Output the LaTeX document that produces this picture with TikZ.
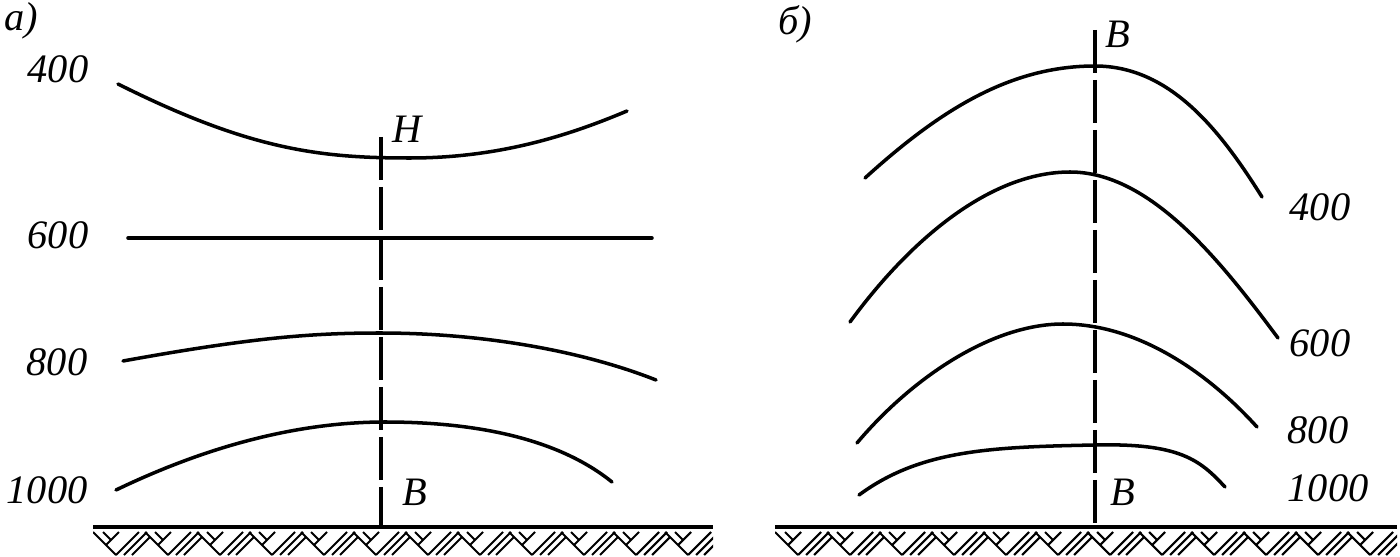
\documentclass[tikz,border=0pt]{standalone}
\usepackage{fontspec}
\setmainfont{Liberation Serif}
\begin{document}
\begin{tikzpicture}[x=0.02cm,y=-0.02cm,
isoline/.style={line width=2pt, line cap=round},
axisline/.style={line width=2pt, dash pattern=on 0.86cm off 0.14cm},
groundline/.style={line width=2.6pt},
hatchline/.style={line width=1.2pt},
lbl/.style={font=\fontsize{23}{26}\selectfont\itshape, inner sep=0pt},
]
\useasboundingbox (0,0) rectangle (1400,557);

%Panel a
\node[lbl] (pa)    at (21,21)   {а)};
\node[lbl] (a400)  at (58,69)   {400};
\node[lbl] (a600)  at (58,235)  {600};
\node[lbl] (a800)  at (57,362)  {800};
\node[lbl] (a1000) at (47,490)  {1000};
\node[lbl] (aH)    at (407,129) {H};
\node[lbl] (aB)    at (415,492) {B};

\draw[isoline] (118,84) .. controls (250,150) and (320,158) .. (410,158)
  .. controls (500,158) and (570,135) .. (627,111);
\draw[isoline] (128,238) -- (652,238);
\draw[isoline] (123,361) .. controls (250,338) and (310,333) .. (380,333)
  .. controls (480,333) and (580,350) .. (656,380);
\draw[isoline] (116,490) .. controls (220,440) and (310,422) .. (385,422)
  .. controls (480,422) and (560,440) .. (612,482);

\coordinate (atop) at (381,137);
\coordinate (abot) at (381,527);
\draw[axisline] (atop) -- (abot);

%Panel b
\node[lbl] (pb)    at (795,24)   {б)};
\node[lbl] (bBt)   at (1118,34)  {B};
\node[lbl] (b400)  at (1320,207) {400};
\node[lbl] (b600)  at (1320,343) {600};
\node[lbl] (b800)  at (1318,430) {800};
\node[lbl] (b1000) at (1328,488) {1000};
\node[lbl] (bBb)   at (1123,492) {B};

\draw[isoline] (865,178) .. controls (940,110) and (1010,66) .. (1095,66)
  .. controls (1170,66) and (1220,130) .. (1262,197);
\draw[isoline] (850,322) .. controls (910,240) and (990,172) .. (1070,172)
  .. controls (1150,172) and (1220,260) .. (1278,338);
\draw[isoline] (857,443) .. controls (910,380) and (990,324) .. (1063,324)
  .. controls (1140,324) and (1210,375) .. (1257,427);
\draw[isoline] (859,495) .. controls (920,450) and (990,447) .. (1095,445)
  .. controls (1180,443) and (1200,460) .. (1225,487);

\coordinate (btop) at (1095,30);
\coordinate (bbot) at (1095,527);
\draw[axisline] (btop) -- (bbot);

%Ground
\draw[groundline] (93,527) -- (713,527);
\draw[groundline] (775,527) -- (1397,527);
\begin{scope}
\clip (93,530) rectangle (713,557) (775,530) rectangle (1397,557);
\foreach \x in {93,145,...,720,775,827,...,1400}{
  \begin{scope}[shift={(\x,532)}]
  \draw[hatchline] (0,0) -- (23,23);
  \draw[hatchline] (10,0) -- (18,8);
  \draw[hatchline] (13,13) -- (26,0);
  \draw[hatchline] (23,23) -- (46,0);
  \draw[hatchline] (31,23) -- (54,0);
  \draw[hatchline] (39,23) -- (57,5);
  \end{scope}
}
\end{scope}
\end{tikzpicture}
\end{document}
